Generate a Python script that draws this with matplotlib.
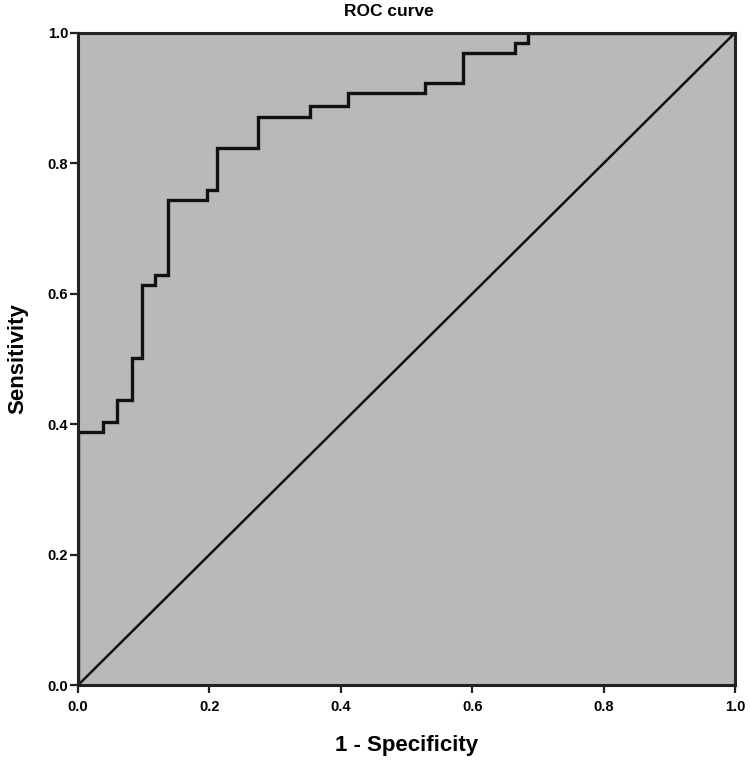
"""ROC curve with chance diagonal, SPSS-style grey panel."""

import numpy as np
import matplotlib
matplotlib.use("Agg")
import matplotlib.pyplot as plt

# step corners (1 - specificity, sensitivity)
fpr = [0.0, 0.0, 0.038, 0.038, 0.059, 0.059, 0.082, 0.082, 0.097, 0.097,
       0.117, 0.117, 0.137, 0.137, 0.196, 0.196, 0.211, 0.211, 0.274, 0.274,
       0.353, 0.353, 0.411, 0.411, 0.528, 0.528, 0.586, 0.586, 0.665, 0.665,
       0.685, 0.685, 1.0]
tpr = [0.0, 0.388, 0.388, 0.404, 0.404, 0.437, 0.437, 0.501, 0.501, 0.613,
       0.613, 0.629, 0.629, 0.744, 0.744, 0.759, 0.759, 0.823, 0.823, 0.871,
       0.871, 0.888, 0.888, 0.908, 0.908, 0.923, 0.923, 0.969, 0.969, 0.985,
       0.985, 1.0, 1.0]
ticks = [0.0, 0.2, 0.4, 0.6, 0.8, 1.0]

plt.rcParams["font.family"] = ["Liberation Sans", "DejaVu Sans"]

fig = plt.figure(figsize=(7.5, 7.63), dpi=100)
ax = fig.add_axes([0.104, 0.102, 0.876, 0.855])
ax.set_facecolor("#b9b9b9")

ax.plot(fpr, tpr, color="#111111", lw=2.4, solid_joinstyle="miter")
ax.plot([0, 1], [0, 1], color="#111111", lw=1.8)

ax.set_xlim(0, 1)
ax.set_ylim(0, 1)
ax.set_xticks(ticks)
ax.set_yticks(ticks)
ax.set_xticklabels([f"{t:.1f}" for t in ticks], fontweight="bold", fontsize=10.5)
ax.set_yticklabels([f"{t:.1f}" for t in ticks], fontweight="bold", fontsize=10.5)
ax.tick_params(direction="out", length=6, width=1.6, color="#222222")
ax.tick_params(axis="x", pad=5)
ax.tick_params(axis="y", pad=1)
for s in ax.spines.values():
    s.set_linewidth(2.2)
    s.set_color("#222222")

ax.set_xlabel("1 - Specificity", fontweight="bold", fontsize=16, labelpad=15)
ax.set_ylabel("Sensitivity", fontweight="bold", fontsize=16, labelpad=14)
fig.text(389 / 750, 1 - 11 / 763, "ROC curve", fontweight="bold", fontsize=12.5,
         ha="center", va="center")

fig.savefig("out.png", dpi=100)
